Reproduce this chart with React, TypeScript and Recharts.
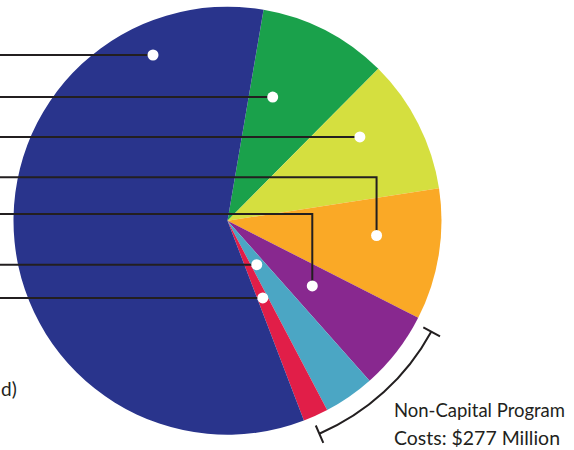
import React from 'react';
import { PieChart, Pie, Cell } from 'recharts';

// ---- data (slices in clockwise order, starting at the top) ----
const categories = ['Segment A', 'Segment B', 'Segment C', 'Segment D', 'Segment E', 'Segment F', 'Segment G'];
const values = [231, 240, 235, 141, 91, 45, 1386]; // $ millions
const colors = ['#1aa14b', '#d5df3f', '#faa926', '#88288f', '#4ba6c4', '#e11e48', '#29348c'];
const nonCapitalIdx = [3, 4, 5];
const bracketText = ['Non-Capital Program', 'Costs: $277 Million'];
const cutLabel = 'd)';

const data = categories.map((name, i) => ({ name, value: values[i] }));
const total = values.reduce((a, b) => a + b, 0);

// ---- layout ----
const W = 574;
const H = 450;
const CX = 227.5;
const CY = 220.7;
const R = 214;
const START = 80.3;
const INK = '#231f20';
const FONT = 'Lato, "Open Sans", sans-serif';

// callout dot position inside each slice: fraction of slice sweep, fraction of radius,
// optional elbow (line row offset from centre)
const callouts = [
  { af: 0.296, rf: 0.615, elbowDy: null as number | null },
  { af: 0.353, rf: 0.732, elbowDy: null as number | null },
  { af: 0.403, rf: 0.7, elbowDy: -43.4 as number | null },
  { af: 0.495, rf: 0.5, elbowDy: -6.7 as number | null },
  { af: 0.576, rf: 0.247, elbowDy: null as number | null },
  { af: 0.47, rf: 0.397, elbowDy: null as number | null },
  { af: 0.839, rf: 0.849, elbowDy: null as number | null },
];

const RAD = Math.PI / 180;
const pt = (cx: number, cy: number, r: number, a: number) => [cx + r * Math.cos(-a * RAD), cy + r * Math.sin(-a * RAD)];

const angleBefore = (idx: number) => {
  let s = 0;
  for (let i = 0; i < idx; i++) s += values[i];
  return START - (360 * s) / total;
};

const renderLabel = (props: any) => {
  const { cx, cy, outerRadius, index } = props;
  const sa = props.startAngle ?? angleBefore(index);
  const ea = props.endAngle ?? angleBefore(index + 1);
  const c = callouts[index];
  const ang = sa + (ea - sa) * c.af;
  const [x, y] = pt(cx, cy, outerRadius * c.rf, ang);
  const d = c.elbowDy == null ? `M-10,${y}H${x}` : `M-10,${cy + c.elbowDy}H${x}V${y}`;

  let extra: React.ReactNode = null;
  if (index === nonCapitalIdx[0]) {
    const a0 = angleBefore(nonCapitalIdx[0]) - 1.6;
    const a1 = angleBefore(nonCapitalIdx[nonCapitalIdx.length - 1] + 1) + 2.4;
    const rb = outerRadius + 18;
    const [x0, y0] = pt(cx, cy, rb, a0);
    const [x1, y1] = pt(cx, cy, rb, a1);
    const [t0a, t0b] = [pt(cx, cy, rb - 9, a0), pt(cx, cy, rb + 10, a0)];
    const [t1a, t1b] = [pt(cx, cy, rb - 9, a1), pt(cx, cy, rb + 10, a1)];
    extra = (
      <g>
        <path d={`M${x0},${y0}A${rb},${rb} 0 0 1 ${x1},${y1}`} fill="none" stroke={INK} strokeWidth={2} />
        <path d={`M${t0a[0]},${t0a[1]}L${t0b[0]},${t0b[1]}M${t1a[0]},${t1a[1]}L${t1b[0]},${t1b[1]}`} stroke={INK} strokeWidth={2} />
        <text x={394} y={416.5} fontFamily={FONT} fontSize={19.5} fill={INK} textLength={171} lengthAdjust="spacingAndGlyphs">{bracketText[0]}</text>
        <text x={394} y={445} fontFamily={FONT} fontSize={19.5} fill={INK} textLength={166} lengthAdjust="spacingAndGlyphs">{bracketText[1]}</text>
      </g>
    );
  }
  if (index === values.length - 1) {
    extra = (
      <text x={1} y={396} fontFamily={FONT} fontSize={19} fill={INK}>{cutLabel}</text>
    );
  }

  return (
    <g>
      <path d={d} fill="none" stroke={INK} strokeWidth={2} />
      <circle cx={x} cy={y} r={5.5} fill="#ffffff" />
      {extra}
    </g>
  );
};

export default function App() {
  return (
    <div style={{ position: 'absolute', left: 0, top: 0, width: W, height: H, background: '#fff' }}>
      <PieChart width={W} height={H} margin={{ top: 0, right: 0, bottom: 0, left: 0 }}>
        <Pie
          data={data}
          dataKey="value"
          nameKey="name"
          cx={CX}
          cy={CY}
          outerRadius={R}
          startAngle={START}
          endAngle={START - 360}
          stroke="none"
          label={renderLabel}
          labelLine={false}
          isAnimationActive={false}
        >
          {data.map((d, i) => (
            <Cell key={d.name} fill={colors[i]} />
          ))}
        </Pie>
      </PieChart>
    </div>
  );
}
